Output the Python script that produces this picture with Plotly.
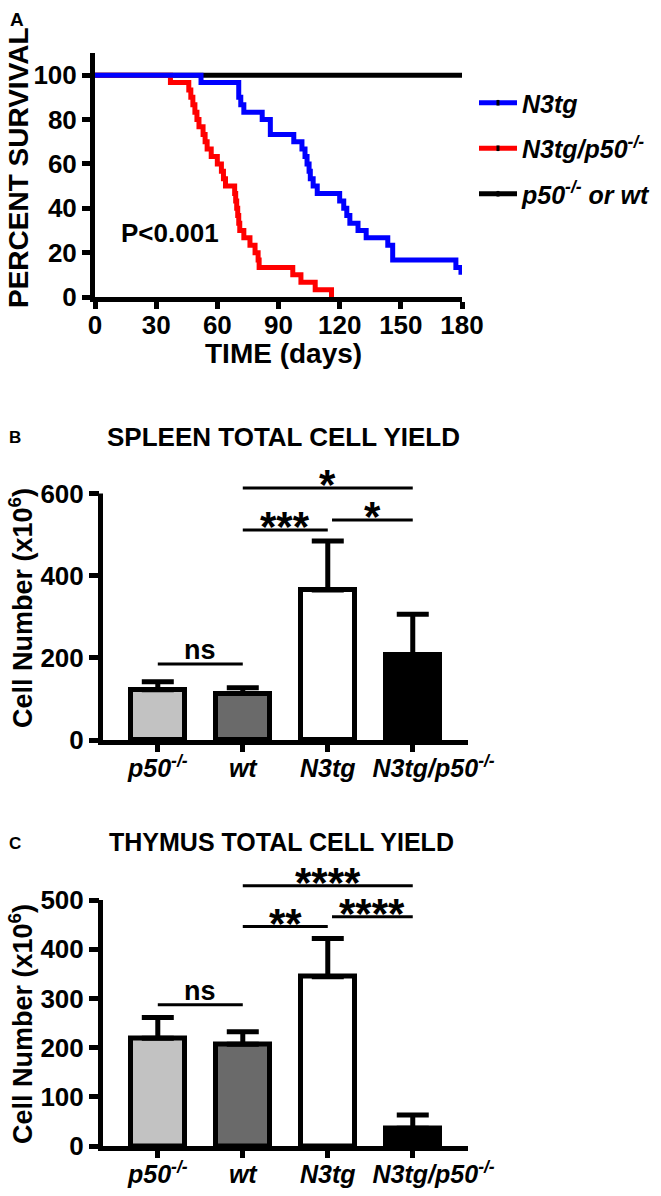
import plotly.graph_objects as go

W, H = 661, 1196
FONT = "Liberation Sans"

# --- panel A: Kaplan-Meier survival (step points: day, percent surviving) ---
n3tg_days = [0, 52, 70.5, 71.5, 73, 82, 86, 97.5, 101.5, 103, 104, 105, 105.6, 107, 109,
             120, 122, 123.5, 125, 129, 133, 143.6, 146, 177, 179.5]
n3tg_surv = [100, 96.7, 90, 86.7, 83.3, 80, 73.3, 70, 66.7, 63.3, 60, 56.7, 53.3, 50, 46.7,
             43.3, 40, 36.7, 33.3, 30, 26.7, 23.3, 16.7, 13.3, 10]

dko_days = [0, 37, 46, 47, 48, 49, 50, 51, 53, 54, 55, 57, 60, 62, 63, 64, 68.5, 69, 69.5,
            70, 70.5, 71, 73, 76, 78.5, 80, 80.5, 97, 101, 108, 116]
dko_surv = [100, 96.7, 93.3, 90, 86.7, 83.3, 80, 76.7, 73.3, 70, 66.7, 63.3, 60, 56.7, 53.3,
            50, 46.7, 43.3, 40, 36.7, 33.3, 30, 26.7, 23.3, 20, 16.7, 13.3, 10, 6.7, 3.3, 0]

ctrl_days = [0, 180]
ctrl_surv = [100, 100]

# --- panels B / C: total cell yield (x10^6), mean and upper error ---
group_labels = ["<i>p50<sup>-/-</sup></i>", "<i>wt</i>", "<i>N3tg</i>",
                "&#160;" * 6 + "<i>N3tg/p50<sup>-/-</sup></i>"]
bar_colors = ["#c2c2c2", "#6a6a6a", "white", "black"]

spleen_mean = [122, 113, 365, 208]
spleen_err = [20, 14, 119, 98]
thymus_mean = [219, 207, 344, 36]
thymus_err = [42, 25, 78, 27]

# significance brackets: (start group, end group, height, label)
spleen_sig = [(0, 1, 185, "ns"), (1, 2, 511, "***"), (2.05, 3, 535, "*"), (1, 3, 613, "*")]
thymus_sig = [(0, 1, 287, "ns"), (1, 2, 446, "**"), (2.05, 3, 466, "****"), (1, 3, 529, "****")]


def px(x):
    return x / W


def py(y):
    return 1 - y / H


fig = go.Figure()

# survival curves (black under red under blue)
fig.add_trace(go.Scatter(x=ctrl_days, y=ctrl_surv, mode="lines", line=dict(color="black", width=5),
                         showlegend=False, xaxis="x", yaxis="y"))
fig.add_trace(go.Scatter(x=dko_days, y=dko_surv, mode="lines", line=dict(color="#ff0000", width=5, shape="hv"),
                         showlegend=False, xaxis="x", yaxis="y"))
fig.add_trace(go.Scatter(x=n3tg_days, y=n3tg_surv, mode="lines", line=dict(color="#0000ff", width=5, shape="hv"),
                         showlegend=False, xaxis="x", yaxis="y"))

# legend entries (line with censor tick)
for name, col in [("N3tg", "#0000ff"), ("N3tg/p50<sup>-/-</sup>", "#ff0000"),
                  ("p50<sup>-/-</sup> or wt", "black")]:
    fig.add_trace(go.Scatter(x=[None], y=[None], mode="lines+markers", name=name, legendgroup=name,
                             line=dict(color=col, width=5),
                             marker=dict(symbol="line-ns", size=4, color="black",
                                         line=dict(color="black", width=3)),
                             xaxis="x", yaxis="y"))

# bar panels
for mean, err, xa, ya in [(spleen_mean, spleen_err, "x2", "y2"), (thymus_mean, thymus_err, "x3", "y3")]:
    fig.add_trace(go.Bar(x=[0, 1, 2, 3], y=mean, width=0.64, xaxis=xa, yaxis=ya, showlegend=False,
                         marker=dict(color=bar_colors, line=dict(color="black", width=5)),
                         error_y=dict(type="data", symmetric=False, array=err, arrayminus=[0] * 4,
                                      color="black", thickness=5, width=16)))

axis_common = dict(showgrid=False, zeroline=False, ticks="outside", tickwidth=5,
                   tickcolor="black", linecolor="black", linewidth=5)
tick_font = dict(family=FONT, size=26, color="black", weight="bold")
cat_font = dict(family=FONT, size=25, color="black", weight="bold")

fig.update_layout(
    width=W, height=H, margin=dict(l=0, r=0, t=0, b=0, autoexpand=False),
    paper_bgcolor="white", plot_bgcolor="white", bargap=0,
    xaxis=dict(domain=[px(95), px(462)], range=[0, 180], tickvals=list(range(0, 181, 30)),
               showline=True, tickfont=tick_font, anchor="y", ticklen=7, ticklabelstandoff=-6,
               **axis_common),
    yaxis=dict(domain=[py(297), py(53)], range=[0, 110], tickvals=list(range(0, 101, 20)),
               showline=True, tickfont=tick_font, anchor="x", ticklen=8, **axis_common),
    xaxis2=dict(domain=[px(100), px(468)], range=[-0.68, 3.65], tickvals=[0, 1, 2, 3],
                ticktext=group_labels, showline=True, anchor="y2", tickangle=0, ticklen=7,
                ticklabelstandoff=-5, tickfont=cat_font, **axis_common),
    yaxis2=dict(domain=[py(740), py(740 - 640 * 0.411)], range=[0, 640], tickvals=[0, 200, 400, 600],
                showline=False, tickfont=tick_font, anchor="x2", ticklen=10, **axis_common),
    xaxis3=dict(domain=[px(100), px(468)], range=[-0.68, 3.65], tickvals=[0, 1, 2, 3],
                ticktext=group_labels, showline=True, anchor="y3", tickangle=0, ticklen=7,
                ticklabelstandoff=-5, tickfont=cat_font, **axis_common),
    yaxis3=dict(domain=[py(1146), py(1146 - 560 * 0.492)], range=[0, 560], tickvals=list(range(0, 501, 100)),
                showline=False, tickfont=tick_font, anchor="x3", ticklen=10, **axis_common),
    legend=dict(x=px(474), y=py(80), xanchor="left", yanchor="top", tracegroupgap=10, itemwidth=38,
                font=dict(family=FONT, size=25, color="black", weight="bold", style="italic"),
                bgcolor="rgba(0,0,0,0)"),
)


def ypaper(v, layout_axis):
    d0, d1 = layout_axis.domain
    r0, r1 = layout_axis.range
    return d0 + (v - r0) / (r1 - r0) * (d1 - d0)


# y axis lines of bar panels stop at the top tick
for ya, top in [("yaxis2", 600), ("yaxis3", 500)]:
    axo = fig.layout[ya]
    fig.add_shape(type="line", xref="paper", yref="paper", x0=px(100.5), x1=px(100.5),
                  y0=axo.domain[0] - 5 / H, y1=ypaper(top, axo), line=dict(color="black", width=5))

# significance brackets
for sig, xa, ya in [(spleen_sig, "x2", "y2"), (thymus_sig, "x3", "y3")]:
    for a, b, h, lab in sig:
        fig.add_shape(type="line", xref=xa, yref=ya, x0=a, x1=b, y0=h, y1=h,
                      line=dict(color="black", width=3))
        star = lab != "ns"
        fig.add_annotation(x=(a + b) / 2, y=h, xref=xa, yref=ya, text=lab, showarrow=False,
                           yanchor="bottom", yshift=-22 if star else -3,
                           font=dict(family=FONT, size=42 if star else 27, color="black", weight="bold"))

# texts
texts = [
    ("A", 17, 19, 19, 0), ("B", 15, 437, 17, 0), ("C", 15, 843, 17, 0),
    ("PERCENT SURVIVAL", 18, 168, 28, -90), ("TIME (days)", 283, 353, 28, 0),
    ("SPLEEN TOTAL CELL YIELD", 283, 437, 26, 0), ("THYMUS TOTAL CELL YIELD", 281, 842, 25, 0),
    ("Cell Number (x10<sup>6</sup>)", 21, 608, 27, -90), ("Cell Number (x10<sup>6</sup>)", 21, 1024, 27, -90),
]
for t, x, y, s, ang in texts:
    fig.add_annotation(x=px(x), y=py(y), xref="paper", yref="paper", text=t, showarrow=False,
                       textangle=ang, xanchor="center", yanchor="middle",
                       font=dict(family=FONT, size=s, color="black", weight="bold"))

fig.add_annotation(x=37, y=29, xref="x", yref="y", text="P<0.001", showarrow=False,
                   font=dict(family=FONT, size=26, color="black", weight="bold"))

# drop the default page margin so the figure sits at the window corner
fig.write_html("out.html", config={"displayModeBar": False},
               post_script="document.body.style.margin='0px';")
